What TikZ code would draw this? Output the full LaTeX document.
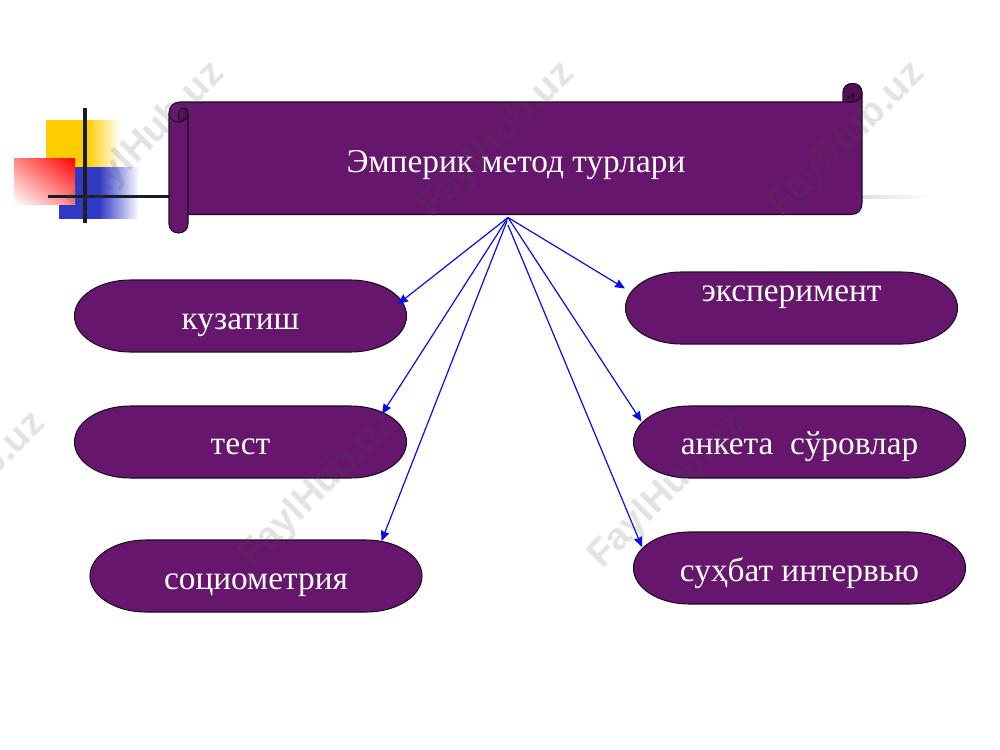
\documentclass[tikz,border=0pt]{standalone}
\usepackage{fontspec}
\setmainfont{Liberation Serif}
\newfontfamily\wmfont{Liberation Sans}
\usetikzlibrary{arrows.meta,shadings}
\definecolor{plum}{HTML}{66166C}
\definecolor{plumdark}{HTML}{4F1056}
\definecolor{inkline}{HTML}{1A0E20}
\definecolor{barblack}{HTML}{1C1C24}
\definecolor{linkblue}{HTML}{0A0AF0}
\definecolor{amber}{HTML}{FFCC00}
\definecolor{cobalt}{HTML}{3038C8}
\definecolor{wmgrey}{HTML}{505050}
\pgfdeclarehorizontalshading{amberfade}{100bp}{color(0bp)=(amber);color(25bp)=(amber);color(52bp)=(amber);color(75bp)=(white);color(100bp)=(white)}
\pgfdeclarehorizontalshading{cobaltfade}{100bp}{color(0bp)=(cobalt);color(25bp)=(cobalt);color(50bp)=(cobalt);color(75bp)=(white);color(100bp)=(white)}
\pgfdeclarehorizontalshading{shadowfade}{100bp}{color(0bp)=(black!12);color(25bp)=(black!12);color(40bp)=(black!9);color(75bp)=(white);color(100bp)=(white)}
\tikzset{
  pillshape/.style={draw=inkline,fill=plum,line width=0.8pt},
  scrollshape/.style={draw=inkline,fill=plum,line width=0.8pt,line join=round},
  scrollline/.style={draw=inkline,line width=0.8pt},
  labeltext/.style={text=white,font=\fontsize{25}{30}\selectfont,inner sep=0pt,anchor=base},
  arrowlink/.style={draw=linkblue,line width=0.9pt,-{Stealth[length=7.5pt,width=6.5pt,inset=0.5pt]}},
  bar/.style={draw=barblack,line width=2.4pt},
  watermark/.style={text=wmgrey,text opacity=0.16,rotate=45,font=\wmfont\bfseries\fontsize{28.5}{34}\selectfont,inner sep=0pt}
}
\newcommand{\pillat}[5]{%
  \begin{scope}[shift={(#1,#2)}]
    \path[pillshape] (-110,-36) -- (110,-36) .. controls (141,-36) and (166,-20) .. (166,0)
      .. controls (166,20) and (141,36) .. (110,36) -- (-110,36)
      .. controls (-141,36) and (-166,20) .. (-166,0)
      .. controls (-166,-20) and (-141,-36) .. (-110,-36) -- cycle;
    \node[labeltext] (#3) at (0,#4) {#5};
  \end{scope}}
\begin{document}
\begin{tikzpicture}[x=0.75pt,y=-0.75pt]
\useasboundingbox (0,0) rectangle (1000,750);
\clip (0,0) rectangle (1000,750);
% decoration squares
\shade[shading=amberfade] (46,120) rectangle (121,167);
\shade[shading=cobaltfade] (59,167) rectangle (139,218);
\shade[shading=bilinear interpolation,lower left=white,upper left=red!48,upper right=red,lower right=red!48] (14,158) rectangle (75,204);
\shade[shading=shadowfade] (862,195) rectangle (932,198);
\draw[bar] (85,108) -- (85,223);
\draw[bar] (48,196.5) -- (172,196.5);
% scroll
\path[scrollshape] (180,102) -- (843,102) -- (843,93)
  .. controls (843,87) and (847,83.5) .. (852.5,83.5)
  .. controls (858,83.5) and (862,87) .. (862,93)
  -- (862,203) .. controls (862,210) and (858,214.5) .. (851,214.5)
  -- (188,214.5) -- (188,224)
  .. controls (188,229) and (184,233) .. (178.5,233)
  .. controls (173,233) and (169,229) .. (169,224)
  -- (169,113) .. controls (169,107) and (173,102) .. (180,102) -- cycle;
\fill[plumdark] (178.5,122) -- (178.5,113) .. controls (178.5,110) and (181,108) .. (184,108)
  .. controls (186.5,108) and (188,110.5) .. (188,113) .. controls (188,118) and (184,122) .. (178.5,122) -- cycle;
\fill[plumdark] (843,102) -- (843,93) .. controls (843,87) and (847,83.5) .. (852.5,83.5)
  .. controls (858,83.5) and (862,87) .. (862,93) .. controls (862,98) and (858,102) .. (853,102) -- cycle;
\path[scrollline] (169,113) .. controls (169,118) and (173,122) .. (178.5,122)
  .. controls (184,122) and (188,118) .. (188,113) -- (188,214.5);
\path[scrollline] (188,113) .. controls (188,110.5) and (186.5,108) .. (184,108)
  .. controls (181,108) and (178.5,110) .. (178.5,113) -- (178.5,122);
\path[scrollline] (843,102) -- (853,102) .. controls (858,102) and (862,98) .. (862,93);
\path[scrollline] (853,102) -- (853,94) .. controls (851,96.5) and (849,97.5) .. (847,98);
\path[scrollline] (843,93) .. controls (843,87) and (847,83.5) .. (852.5,83.5)
  .. controls (858,83.5) and (862,87) .. (862,93);
\node[labeltext] (title) at (516,172) {Эмперик метод турлари};
% pills
\pillat{240.5}{316}{kuz}{13}{кузатиш}
\pillat{240.5}{442}{test}{12}{тест}
\pillat{256}{576}{soc}{13}{социометрия}
\pillat{791.5}{308}{eks}{-7}{эксперимент}
\pillat{799.5}{442}{ank}{12}{анкета\ \ сўровлар}
\pillat{799.5}{568}{suh}{13}{суҳбат интервью}
% connectors
\coordinate (hub) at (508,217.5);
\coordinate (hubsoc) at (507,221);
\coordinate (hubsuh) at (508,225);
\coordinate (tipkuz) at (398,304);
\coordinate (tiptest) at (382,414);
\coordinate (tipsoc) at (381.5,541);
\coordinate (tipeks) at (625,288.5);
\coordinate (tipank) at (641.5,421.5);
\coordinate (tipsuh) at (642,547);
\draw[arrowlink] (hub) -- (tipkuz);
\draw[arrowlink] (hub) -- (tiptest);
\draw[arrowlink] (hubsoc) -- (tipsoc);
\draw[arrowlink] (hub) -- (tipeks);
\draw[arrowlink] (hub) -- (tipank);
\draw[arrowlink] (hubsuh) -- (tipsuh);
% watermarks
\node[watermark] (wa) at (147,140) {FaylHub.uz};
\node[watermark] (wb) at (497,140) {FaylHub.uz};
\node[watermark] (wc) at (847,140) {FaylHub.uz};
\node[watermark] (wd) at (-32,490) {FaylHub.uz};
\node[watermark] (we) at (318,490) {FaylHub.uz};
\node[watermark] (wf) at (667,491) {FaylHub.uz};
\end{tikzpicture}
\end{document}
